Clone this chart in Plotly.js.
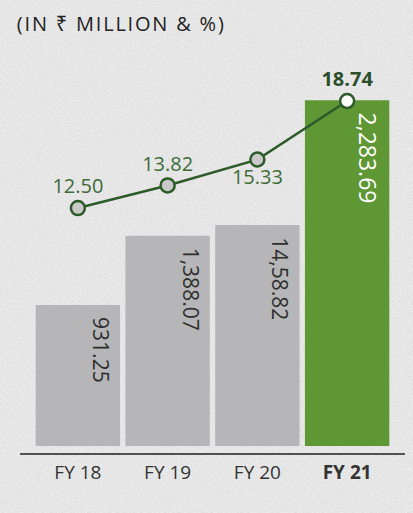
<!DOCTYPE html>
<html><head><meta charset="utf-8">
<script src="https://cdn.plot.ly/plotly-3.0.1.min.js"></script>
<style>
html,body{margin:0;padding:0;}
body{width:413px;height:513px;background-color:#ebebeb;
background-image:url("data:image/svg+xml;utf8,<svg xmlns='http://www.w3.org/2000/svg' width='413' height='513'><filter id='n'><feTurbulence type='fractalNoise' baseFrequency='0.8' numOctaves='2' seed='3'/><feColorMatrix values='0 0 0 0 0.5  0 0 0 0 0.5  0 0 0 0 0.5  0 0 0 -1.6 1.05'/></filter><rect width='100%' height='100%' filter='url(%23n)' opacity='0.4'/></svg>");}
#chart{width:413px;height:513px;}
</style></head>
<body><div id="chart"></div>
<script>
const categories = ["FY 18", "FY 19", "FY 20", "FY 21"];
const tickLabels = ["FY 18", "FY 19", "FY 20", "<b>FY 21</b>"];
const barValues = [931.25, 1388.07, 1458.82, 2283.69];
const barLabels = ["931.25", "1,388.07", "14,58.82", "2,283.69"];
const lineValues = [12.50, 13.82, 15.33, 18.74];
const lineLabels = ["12.50", "13.82", "15.33", "<b>18.74</b>"];

const FONT = "Open Sans, Noto Sans, sans-serif";
const grey = "#b6b6b8", green = "#5f9735";

const bars = {
  type: "bar", x: categories, y: barValues,
  marker: {color: categories.map((c,i)=> i===3 ? green : grey), line:{width:0}},
  hoverinfo: "skip", showlegend: false
};
const line = {
  type: "scatter", mode: "lines+markers+text", x: categories, y: lineValues, yaxis: "y2",
  text: lineLabels,
  textposition: ["top center","top center","bottom center","top center"],
  textfont: {family: FONT, size: 20, color: lineValues.map((v,i)=> i===3 ? "#2b4e2a" : "#3d6b39")},
  line: {color: "#2c5a29", width: 2.5},
  marker: {size: 14, color: lineValues.map((v,i)=> i===3 ? "#ffffff" : "#c9c9c9"),
           line: {color: "#2c5a29", width: 2.5}},
  cliponaxis: false, hoverinfo: "skip", showlegend: false
};

const annotations = categories.map((c,i)=>({
  x: c, y: barValues[i], xref: "x", yref: "y",
  text: barLabels[i], showarrow: false, textangle: 90,
  xanchor: "center", yanchor: "top", xshift: i===3 ? 21 : 23, yshift: -10,
  font: {family: FONT, size: i===3 ? 23 : 21, color: i===3 ? "#ffffff" : "#2e2e2e"}
}));
annotations.push({
  text: "(IN ₹ MILLION & %)", xref: "paper", yref: "paper",
  x: -0.005, y: 1.039, xanchor: "left", yanchor: "middle", showarrow: false,
  font: {family: FONT, size: 20, color: "#222222"}
});

const layout = {
  width: 413, height: 513,
  margin: {l: 33, r: 21, t: 40, b: 59},
  paper_bgcolor: "rgba(0,0,0,0)", plot_bgcolor: "rgba(0,0,0,0)",
  bargap: 0.06,
  xaxis: {tickvals: categories, ticktext: tickLabels, showgrid: false, zeroline: false,
          showline: false, ticks: "", tickfont: {family: FONT, size: 19, color: "#333333"},
          ticklabelstandoff: 5},
  yaxis: {range: [-52.8, 2681], visible: false, showgrid: false, zeroline: false},
  yaxis2: {range: [-1.84, 22.3], overlaying: "y", visible: false, showgrid: false, zeroline: false},
  shapes: [{type: "line", xref: "paper", yref: "paper", x0: -0.036, x1: 1.036, y0: 0, y1: 0,
            line: {color: "#1e1e1e", width: 1.5}}],
  annotations: annotations
};
Plotly.newPlot("chart", [bars, line], layout, {displayModeBar: false, staticPlot: true}).then(()=>{
  const anns = document.querySelectorAll(".annotation");
  const last = anns[anns.length-1];
  if (last) { const t = last.querySelector("text"); if (t) t.style.letterSpacing = "1.8px"; }
});
</script></body></html>
